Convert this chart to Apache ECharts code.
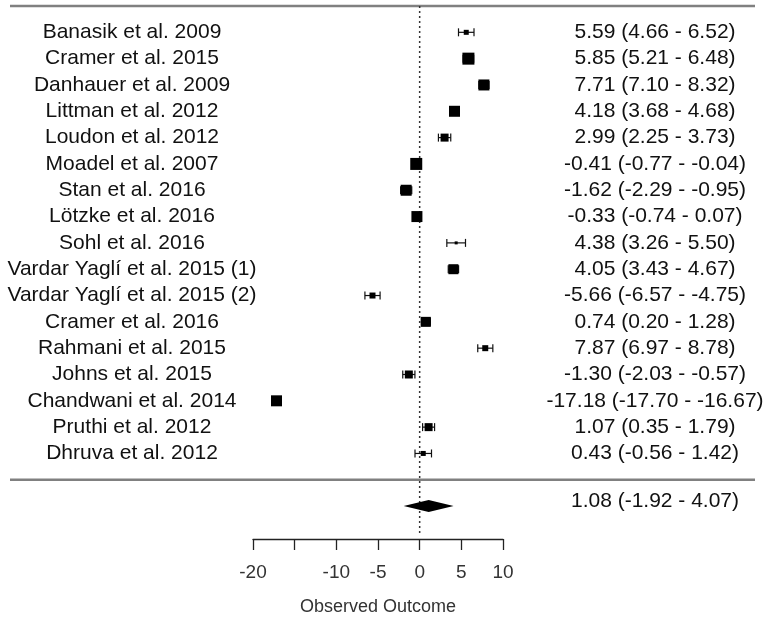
<!DOCTYPE html>
<html>
<head>
<meta charset="utf-8">
<script src="https://cdn.jsdelivr.net/npm/echarts@6/dist/echarts.min.js"></script>
<style>
  html, body { margin: 0; padding: 0; background: #fff; }
  #chart { width: 771px; height: 621px; }
</style>
</head>
<body>
<div id="chart"></div>
<script>
const studies = [
  'Banasik et al. 2009', 'Cramer et al. 2015', 'Danhauer et al. 2009',
  'Littman et al. 2012', 'Loudon et al. 2012', 'Moadel et al. 2007',
  'Stan et al. 2016', 'Lötzke et al. 2016', 'Sohl et al. 2016',
  'Vardar Yaglí et al. 2015 (1)', 'Vardar Yaglí et al. 2015 (2)',
  'Cramer et al. 2016', 'Rahmani et al. 2015', 'Johns et al. 2015',
  'Chandwani et al. 2014', 'Pruthi et al. 2012', 'Dhruva et al. 2012'
];
const estimates = [5.59, 5.85, 7.71, 4.18, 2.99, -0.41, -1.62, -0.33, 4.38, 4.05, -5.66, 0.74, 7.87, -1.30, -17.18, 1.07, 0.43];
const lower = [4.66, 5.21, 7.10, 3.68, 2.25, -0.77, -2.29, -0.74, 3.26, 3.43, -6.57, 0.20, 6.97, -2.03, -17.70, 0.35, -0.56];
const upper = [6.52, 6.48, 8.32, 4.68, 3.73, -0.04, -0.95, 0.07, 5.50, 4.67, -4.75, 1.28, 8.78, -0.57, -16.67, 1.79, 1.42];
// marker size (px), stands in for study weight
const weights = [5, 12, 11, 11, 8, 12, 11, 11, 3, 10, 6, 10, 6, 8, 11, 8, 5];
const summary = [1.08, -1.92, 4.07];
const xTicks = [-20, -15, -10, -5, 0, 5, 10];
const hiddenTicks = [-15];

const chart = echarts.init(document.getElementById('chart'));

const fmt = (e, l, u) => e.toFixed(2) + ' (' + l.toFixed(2) + ' - ' + u.toFixed(2) + ')';
const FONT = '"Liberation Sans", Arial, sans-serif';
const LABEL_X = 132;
const VALUE_X = 655;

const rows = studies.map((s, i) => [estimates[i], lower[i], upper[i], studies.length - i, weights[i], s]);

const option = {
  animation: false,
  grid: { left: 253, right: 268, top: 6, bottom: 81 },
  xAxis: {
    type: 'value',
    min: xTicks[0],
    max: xTicks[xTicks.length - 1],
    interval: 5,
    splitLine: { show: false },
    axisLine: { show: true, onZero: false, lineStyle: { color: '#222', width: 1.3 } },
    axisTick: { show: true, length: 11, lineStyle: { color: '#222', width: 1.3 } },
    axisLabel: {
      margin: 24,
      fontSize: 19,
      fontFamily: FONT,
      color: '#333',
      formatter: v => (hiddenTicks.includes(v) ? '' : String(v))
    },
    name: 'Observed Outcome',
    nameLocation: 'middle',
    nameGap: 59,
    nameTextStyle: { fontSize: 18, fontFamily: FONT, color: '#333' }
  },
  yAxis: { type: 'value', min: -2.25, max: 18, show: false },
  series: [
    {
      // horizontal rules at the top and above the summary
      type: 'custom',
      data: [[0, 18], [0, 0]],
      encode: { x: 0, y: 1 },
      renderItem: (params, api) => {
        const y = api.coord([0, api.value(1)])[1];
        return {
          type: 'line',
          shape: { x1: 10, y1: y, x2: 755, y2: y },
          style: { stroke: '#808080', lineWidth: 2.5 }
        };
      }
    },
    {
      // dotted reference line at 0
      type: 'custom',
      data: [[0, 18, -2.05]],
      encode: { x: 0, y: [1, 2] },
      renderItem: (params, api) => {
        const top = api.coord([api.value(0), api.value(1)]);
        const bot = api.coord([api.value(0), api.value(2)]);
        return {
          type: 'line',
          shape: { x1: top[0], y1: top[1], x2: bot[0], y2: bot[1] },
          style: { stroke: '#333', lineWidth: 1.5, lineDash: [2, 3] }
        };
      }
    },
    {
      type: 'custom',
      data: rows,
      encode: { x: [0, 1, 2], y: 3 },
      renderItem: (params, api) => {
        const est = api.coord([api.value(0), api.value(3)]);
        const lo = api.coord([api.value(1), api.value(3)]);
        const hi = api.coord([api.value(2), api.value(3)]);
        const size = api.value(4);
        const y = est[1];
        const ln = { stroke: '#111', lineWidth: 1.2 };
        const i = params.dataIndex;
        return {
          type: 'group',
          children: [
            { type: 'line', shape: { x1: lo[0], y1: y, x2: hi[0], y2: y }, style: ln },
            { type: 'line', shape: { x1: lo[0], y1: y - 4, x2: lo[0], y2: y + 4 }, style: ln },
            { type: 'line', shape: { x1: hi[0], y1: y - 4, x2: hi[0], y2: y + 4 }, style: ln },
            { type: 'rect', shape: { x: est[0] - size / 2, y: y - size / 2, width: size, height: size }, style: { fill: '#000' } },
            { type: 'text', style: { text: studies[i], x: LABEL_X, y: y, align: 'center', verticalAlign: 'middle', fontSize: 21, fontFamily: FONT, fill: '#111' } },
            { type: 'text', style: { text: fmt(estimates[i], lower[i], upper[i]), x: VALUE_X, y: y, align: 'center', verticalAlign: 'middle', fontSize: 21, fontFamily: FONT, fill: '#111' } }
          ]
        };
      }
    },
    {
      // pooled estimate diamond
      type: 'custom',
      data: [[summary[0], summary[1], summary[2], -1]],
      encode: { x: [0, 1, 2], y: 3 },
      renderItem: (params, api) => {
        const c = api.coord([api.value(0), api.value(3)]);
        const l = api.coord([api.value(1), api.value(3)]);
        const r = api.coord([api.value(2), api.value(3)]);
        return {
          type: 'group',
          children: [
            { type: 'polygon', shape: { points: [[l[0], c[1]], [c[0], c[1] - 6], [r[0], c[1]], [c[0], c[1] + 6]] }, style: { fill: '#000' } },
            { type: 'text', style: { text: fmt(summary[0], summary[1], summary[2]), x: VALUE_X, y: c[1] - 5, align: 'center', verticalAlign: 'middle', fontSize: 21, fontFamily: FONT, fill: '#111' } }
          ]
        };
      }
    }
  ]
};

chart.setOption(option);
</script>
</body>
</html>
